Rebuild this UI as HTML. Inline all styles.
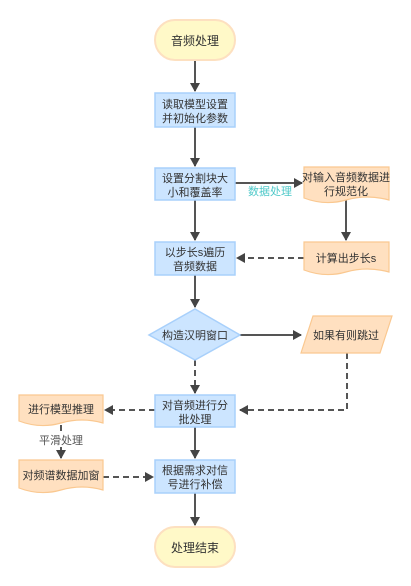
<!DOCTYPE html>
<html><head><meta charset="utf-8"><style>
html,body{margin:0;padding:0;background:#fff;width:411px;height:586px;overflow:hidden}
text{font-family:"Liberation Sans","Noto Sans CJK SC",sans-serif;font-size:11px;fill:#333;text-anchor:middle}
</style></head><body>
<svg width="411" height="586" viewBox="0 0 411 586" xmlns="http://www.w3.org/2000/svg">
<defs>
<marker id="a" markerWidth="10" markerHeight="10" refX="8" refY="5" orient="auto" markerUnits="userSpaceOnUse">
<path d="M0,0 L9,5 L0,10 Z" fill="#444"/></marker>
</defs>
<g stroke="#555" stroke-width="2" fill="none">
<line x1="195" y1="60" x2="195" y2="91" marker-end="url(#a)"/>
<line x1="195" y1="127" x2="195" y2="166" marker-end="url(#a)"/>
<line x1="195" y1="200" x2="195" y2="240" marker-end="url(#a)"/>
<line x1="195" y1="275" x2="195" y2="307" marker-end="url(#a)"/>
<line x1="235" y1="183" x2="302" y2="183" marker-end="url(#a)"/>
<line x1="346" y1="200" x2="346" y2="240" marker-end="url(#a)"/>
<line x1="240" y1="335" x2="301" y2="335" marker-end="url(#a)"/>
<line x1="195" y1="427" x2="195" y2="458" marker-end="url(#a)"/>
<line x1="195" y1="493" x2="195" y2="525" marker-end="url(#a)"/>
<g stroke-dasharray="6,4">
<line x1="304" y1="258" x2="237" y2="258" marker-end="url(#a)"/>
<polyline points="347,353 347,410 240,410" marker-end="url(#a)"/>
<line x1="195" y1="360" x2="195" y2="393" marker-end="url(#a)"/>
<line x1="155" y1="410" x2="105" y2="410" marker-end="url(#a)"/>
<line x1="103" y1="477" x2="153" y2="477" marker-end="url(#a)"/>
<line x1="61" y1="425" x2="61" y2="433"/>
</g>
<line x1="61" y1="447" x2="61" y2="458" marker-end="url(#a)"/>
</g>
<rect x="246" y="184" width="48" height="14" fill="#fff"/>
<text x="270" y="195" style="fill:#4fc9c9">数据处理</text>
<text x="61" y="444" style="fill:#555">平滑处理</text>
<!-- terminals -->
<rect x="155" y="20" width="80" height="40" rx="20" fill="#fff9c8" stroke="#fde0c0" stroke-width="2"/>
<text x="195" y="45" style="font-size:12px">音频处理</text>
<rect x="155" y="527" width="80" height="40" rx="20" fill="#fff9c8" stroke="#fde0c0" stroke-width="2"/>
<text x="195" y="552" style="font-size:12px">处理结束</text>
<!-- blue boxes -->
<g fill="#cce5ff" stroke="#a8d0fb" stroke-width="1.5">
<rect x="155" y="93" width="80" height="34"/>
<rect x="155" y="168" width="80" height="32"/>
<rect x="155" y="242" width="80" height="33"/>
<rect x="155" y="395" width="80" height="32"/>
<rect x="155" y="460" width="80" height="33"/>
<polygon points="195,309 240,335 195,360 149,335"/>
</g>
<text x="195" y="108">读取模型设置</text><text x="195" y="122">并初始化参数</text>
<text x="195" y="182">设置分割块大</text><text x="195" y="196">小和覆盖率</text>
<text x="195" y="256">以步长s遍历</text><text x="195" y="270">音频数据</text>
<text x="195" y="339">构造汉明窗口</text>
<text x="195" y="409">对音频进行分</text><text x="195" y="423">批处理</text>
<text x="195" y="474">根据需求对信</text><text x="195" y="488">号进行补偿</text>
<!-- orange docs -->
<g fill="#ffe0c0" stroke="#fac890" stroke-width="1.2">
<path d="M304,167 H389 V200 Q367,194 346,200 Q325,206 304,198 Z"/>
<path d="M304,242 H389 V272 Q367,266 346,272 Q325,278 304,270 Z"/>
<path d="M19,395 H103 V423 Q82,417 61,423 Q40,429 19,421 Z"/>
<path d="M19,460 H103 V490 Q82,484 61,490 Q40,496 19,488 Z"/>
<polygon points="313,316 392,316 380,353 301,353"/>
</g>
<text x="346" y="181">对输入音频数据进</text><text x="346" y="195">行规范化</text>
<text x="346" y="262">计算出步长s</text>
<text x="346" y="339">如果有则跳过</text>
<text x="61" y="413">进行模型推理</text>
<text x="61" y="479">对频谱数据加窗</text>
</svg>
</body></html>
